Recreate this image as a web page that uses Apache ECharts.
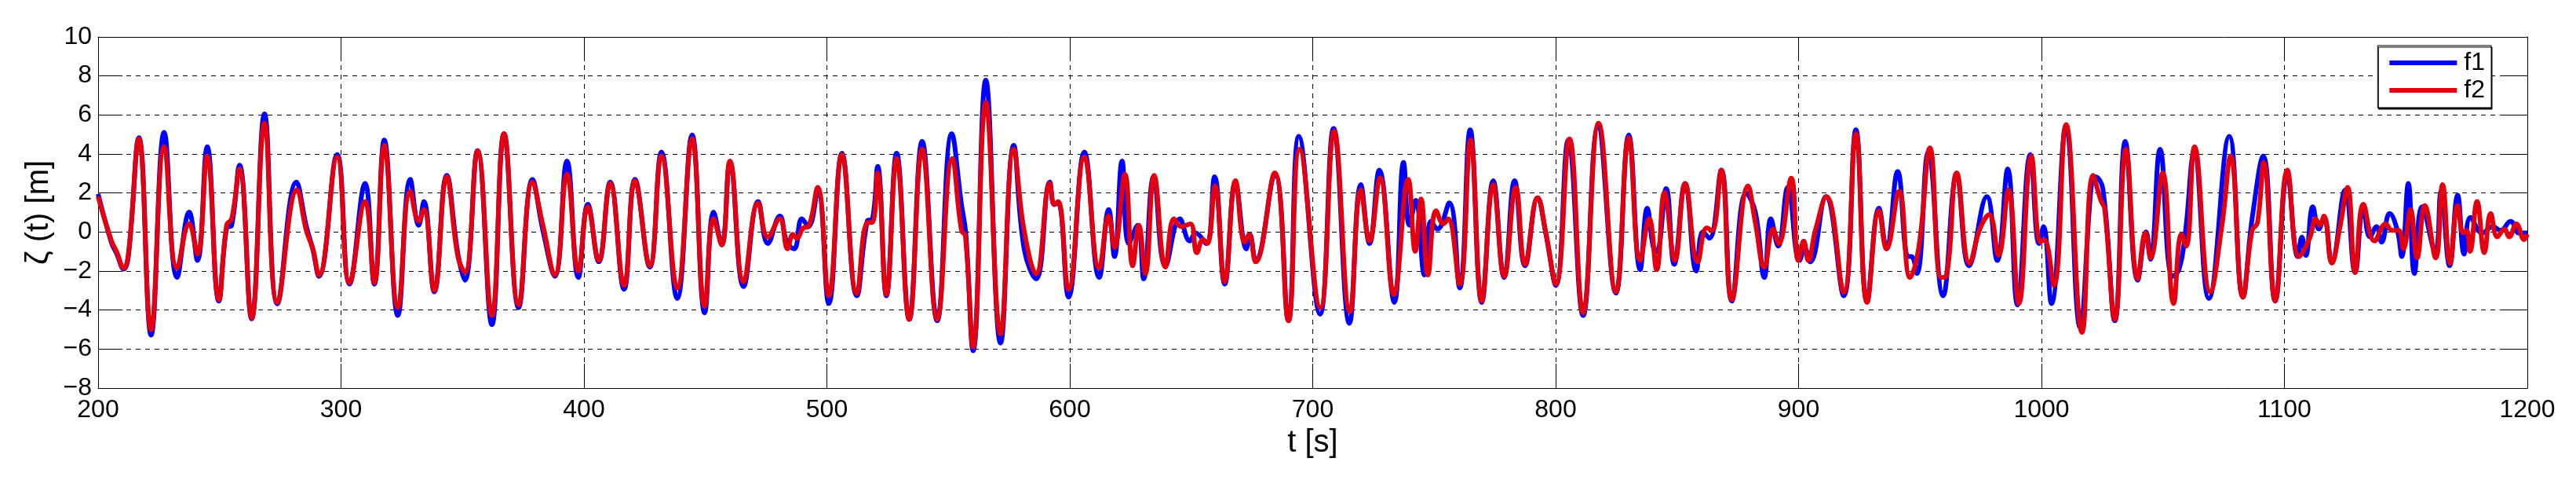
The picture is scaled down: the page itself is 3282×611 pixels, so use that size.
<!DOCTYPE html>
<html>
<head>
<meta charset="utf-8">
<script src="https://cdn.jsdelivr.net/npm/echarts@6/dist/echarts.min.js"></script>
<style>
html,body{margin:0;padding:0;background:#fff;}
#chart{width:3282px;height:611px;}
</style>
</head>
<body>
<div id="chart"></div>
<script>
// x-axis ticks and y-axis ticks
const xTicks = [200, 300, 400, 500, 600, 700, 800, 900, 1000, 1100, 1200];
const yTicks = [-8, -6, -4, -2, 0, 2, 4, 6, 8, 10];
const seriesNames = ['f1', 'f2'];

// f1 (blue) — time [s] and elevation [m], read at extrema
const f1T = [200,205.5,207.6,210.6,212.5,216.8,221.8,227.2,232.5,237.5,240.9,244.9,249.7,252.9,255.0,258.2,263.2,268.5,273.8,281.6,285.7,288.4,290.9,298.4,
303.5,309.9,313.7,317.8,323.4,328.5,332.0,334.1,338.4,343.5,348.1,351.0,356.2,362.1,367.1,373.1,378.8,383.1,388.0,393.0,397.7,401.6,
406.1,410.8,416.5,421.0,427.1,431.9,438.4,444.5,449.7,453.4,456.7,460.1,465.7,471.7,475.7,480.6,483.5,486.5,489.7,492.4,496.2,500.8,506.2,
512.3,516.6,518.8,520.9,524.5,528.7,533.9,539.2,545.4,551.4,555.4,557.2,560.2,565.4,571.5,576.9,581.2,586.1,591.8,593.6,595.2,599.5,606.0,
612.1,616.0,618.4,621.5,624.3,627.9,630.4,634.5,639.4,645.3,649.4,651.8,656.1,659.6,663.8,668.2,672.7,674.1,676.5,684.4,690.0,694.3,703.0,708.6,
715.1,719.8,723.4,727.4,733.6,737.4,739.8,742.4,746.0,748.7,751.3,756.2,760.5,764.8,769.6,774.3,778.8,783.1,787.4,792.6,796.0,800.1,805.2,811.3,817.4,
824.8,830.1,834.8,837.7,840.2,841.6,845.5,848.8,853.3,857.9,860.6,863.3,868.2,872.5,878.4,882.2,885.9,888.6,891.6,895.6,900.4,902.6,904.8,911.2,918.6,
923.6,928.2,933.1,936.2,940.8,945.1,946.5,948.7,953.4,959.5,965.1,970.2,977.5,981.8,986.1,990.1,995.4,999.0,1000.8,1004.1,1010.1,1015.9,1020.5,1022.1,1025.3,
1030.2,1034.5,1039.6,1043.1,1044.9,1048.8,1053.9,1056.6,1059.2,1062.8,1068.9,1077.3,1082.9,1086.7,1091.3,1096.2,1101.2,1105.5,1107.2,1108.8,1111.7,1114.2,1116.3,1119.5,1125.0,
1129.1,1132.5,1135.2,1137.9,1140.0,1143.3,1146.5,1148.3,1151.0,1153.5,1156.7,1162.1,1164.5,1168.0,1171.3,1174.0,1176.6,1181.5,1185.8,1189.0,1193.1,1196.6,1200];
const f1V = [1.95,-0.55,-1.1,-1.9,-1.2,4.84,-5.28,5.11,-2.33,1.02,-1.46,4.37,-3.54,0.2,0.35,3.43,-4.45,6.05,-3.68,2.56,0.3,-0.9,-2.27,3.97,
-2.67,2.49,-2.67,4.71,-4.28,2.7,0.35,1.56,-3.07,2.9,-1.1,-2.47,4.17,-4.75,5.04,-3.88,2.7,0.08,-2.27,3.64,-2.33,1.42,
-1.53,2.56,-2.94,2.7,-1.8,4.1,-3.41,4.98,-4.14,1.02,-0.66,3.57,-2.8,1.56,-0.59,0.82,-0.5,-0.86,0.68,0.28,2.1,-3.67,4.04,
-3.27,0.55,0.68,3.37,-3.27,4.04,-4.48,4.64,-4.55,5.04,1.42,-0.1,-6.09,7.79,-5.69,4.44,-0.86,-2.4,2.56,1.4,1.5,-3.34,4.1,
-2.33,1.15,-1.26,3.64,-0.59,0.35,-2.4,2.83,-1.73,0.68,-0.46,-0.05,-0.59,2.83,-2.67,2.49,-0.86,-0.12,-1.46,2.96,-4.55,4.91,-4.21,5.31,
-4.68,2.43,-0.59,3.17,-3.61,3.57,0.35,1.62,-2.2,0.55,0.15,1.49,-2.87,5.24,-3.61,2.63,-2.33,2.63,-1.73,1.76,-0.12,-2.74,4.71,-4.28,5.38,
-3.14,4.98,-1.93,1.22,-0.79,-1.0,2.23,-1.66,2.49,-2.0,0.01,-0.32,3.17,-3.54,2.0,1.02,-2.33,0.68,-0.72,2.29,-1.46,-0.86,-1.53,1.82,-3.27,
5.24,-3.54,1.22,-0.86,3.1,-1.26,-1.26,-2.13,4.1,-3.27,2.9,-1.73,1.82,-1.46,3.23,-3.74,3.97,-0.59,0.28,-3.67,5.44,-4.88,2.36,2.83,2.2,
-4.55,4.64,-2.47,0.0,-1.4,4.24,-2.27,-1.93,-0.05,4.04,-3.41,4.91,-3.34,0.68,3.9,-3.54,2.97,-1.26,-0.26,-1.2,1.29,0.15,0.75,-1.53,2.15,
-2.07,1.29,-0.25,0.28,-0.52,0.95,0.08,-1.26,2.49,-2.13,1.29,-1.0,2.09,-1.73,1.89,-1.13,0.75,-0.05,0.28,0.08,0.55,-0.05,-0.05];

// f2 (red) — time [s] and elevation [m], read at extrema
const f2T = [200,205.5,207.6,210.6,212.5,216.8,221.8,227.2,232.5,237.5,240.9,244.9,249.7,252.9,255.0,258.2,263.2,268.5,273.8,281.9,285.7,288.4,290.9,298.4,
303.5,309.9,313.7,317.8,323.4,328.5,332.0,334.1,338.4,343.5,348.1,351.0,356.2,362.1,367.1,373.1,378.8,383.1,388.0,393.0,397.7,401.6,
406.1,410.8,416.5,421.0,427.1,431.9,438.4,444.5,449.7,453.4,456.7,460.1,465.7,471.7,475.7,480.6,483.8,486.0,487.6,490.3,492.4,496.2,500.8,506.2,
512.3,516.6,518.8,520.9,524.5,528.7,533.9,539.2,545.4,551.6,555.4,557.0,560.2,565.4,571.5,576.9,581.2,586.1,591.8,593.6,595.2,599.5,606.0,
612.1,616.0,618.4,622.7,625.9,628.4,631.1,634.7,639.4,642.9,645.8,649.6,652.3,654.8,656.6,659.8,663.8,668.2,672.0,673.8,676.5,684.4,690.0,694.6,703.1,708.8,
715.3,719.8,723.4,727.7,733.4,739.3,742.2,744.6,747.4,750.8,753.8,755.7,760.5,765.0,769.6,774.3,778.8,783.6,787.4,792.6,796.0,800.1,805.7,811.3,817.7,
824.8,830.1,834.8,838.5,841.6,844.8,849.1,853.3,858.5,862.2,864.4,868.2,872.5,879.2,882.2,885.9,889.5,891.8,897.0,899.9,902.1,904.0,906.9,911.5,918.6,
923.6,928.2,933.1,936.2,941.4,945.9,949.5,954.1,958.6,960.8,965.1,970.4,974.8,978.5,982.3,986.4,990.7,995.8,999.5,1001.1,1005.1,1010.1,1016.7,1021.2,1024.5,1026.0,
1030.2,1034.8,1039.6,1042.8,1044.9,1049.9,1054.4,1057.6,1059.6,1063.0,1069.5,1074.3,1077.9,1082.9,1086.7,1088.9,1091.5,1096.2,1101.2,1106.1,1110.4,1112.9,1114.5,1116.3,1119.5,1122.8,1126.0,
1129.1,1132.5,1137.1,1141.7,1144.3,1147.0,1149.0,1151.9,1154.6,1157.8,1162.3,1165.1,1168.2,1171.3,1173.6,1175.0,1176.4,1179.3,1182.3,1184.9,1187.7,1190.6,1192.5,1195.5,1198.7,1200];
const f2V = [1.82,-0.46,-1.0,-1.86,-1.1,4.78,-5.02,4.37,-1.86,0.42,-1.13,3.9,-3.47,0.35,0.68,3.23,-4.41,5.58,-3.61,2.16,0.08,-0.86,-2.2,3.84,
-2.6,1.56,-2.6,4.44,-3.88,2.09,0.55,1.15,-3.0,2.83,-1.26,-2.07,4.17,-4.28,5.04,-3.74,2.56,0.35,-2.2,2.96,-2.0,1.29,
-1.46,2.49,-2.74,2.63,-1.73,3.9,-2.87,4.78,-3.81,0.68,-0.66,3.64,-2.54,1.49,-0.25,0.68,-0.86,-0.12,-0.32,0.21,0.28,2.29,-3.27,3.97,
-3.14,0.48,0.5,3.03,-3.2,3.77,-4.48,4.24,-4.48,3.77,0.08,-0.19,-5.89,6.65,-5.22,4.24,0.08,-2.13,2.49,1.42,1.56,-2.94,3.84,
-1.86,0.82,-0.79,2.96,-1.73,0.35,-2.13,2.9,-1.8,0.68,0.28,0.42,-1.06,-0.39,-0.59,2.36,-2.54,2.63,-0.52,-0.12,-1.53,3.03,-4.55,4.24,-3.88,5.18,
-4.08,2.16,-0.46,2.76,-3.2,2.7,-0.99,1.69,-2.2,1.09,0.42,0.68,-2.67,4.71,-3.54,2.43,-2.27,2.29,-1.66,1.76,-0.05,-2.67,4.78,-4.14,5.58,
-3.07,4.84,-1.46,0.68,-1.93,2.03,-1.46,2.49,-1.53,0.21,0.08,3.17,-3.47,2.36,0.48,-1.8,0.15,-0.59,2.76,-1.46,-0.46,-1.46,0.08,1.82,-3.1,
5.04,-3.61,1.09,-0.86,2.09,-2.33,-0.79,4.31,-2.33,-2.26,3.03,-1.6,0.21,0.89,-1.19,2.16,-3.67,3.9,-0.52,-0.39,-2.74,5.51,-5.15,2.9,1.6,1.2,
-4.48,4.24,-2.4,-0.05,-1.33,3.03,-3.67,-0.12,-0.72,4.37,-3.07,0.35,3.9,-3.34,0.08,0.48,3.57,-3.54,3.17,-1.26,-0.32,0.68,0.35,0.82,-1.6,0.21,2.29,
-2.07,1.42,-0.46,0.42,0.08,0.08,-0.86,1.15,-1.33,1.35,-1.33,2.43,-1.6,1.35,-0.05,0.08,-0.99,1.56,-1.06,0.95,-0.25,0.15,-0.25,0.42,-0.39,-0.12];

const FONT = '"Liberation Sans", Arial, Helvetica, sans-serif';
const chart = echarts.init(document.getElementById('chart'), null, {renderer: 'canvas'});

const pair = (T, V) => T.map((t, i) => [t, V[i]]);
const minusFmt = v => (v < 0 ? '\u2212' + Math.abs(v) : String(v));
const plainFmt = v => String(v);

const baseAxisLine = {show: true, onZero: false, lineStyle: {color: '#000', width: 1}};
const baseTick = {show: true, inside: true, length: 31, lineStyle: {color: '#000', width: 1}};
const gridDash = {show: true, lineStyle: {color: '#000', width: 1, type: [6, 6]}};

chart.setOption({
  animation: false,
  backgroundColor: '#fff',
  textStyle: {fontFamily: FONT},
  grid: {left: 125, right: 62, top: 47, bottom: 117, containLabel: false},
  legend: {
    data: seriesNames,
    orient: 'vertical',
    right: 108,
    top: 58,
    icon: 'rect',
    itemWidth: 86,
    itemHeight: 6,
    itemGap: 3,
    padding: [6, 8, 6, 15],
    backgroundColor: '#fff',
    borderColor: '#000',
    borderWidth: 1,
    shadowColor: 'rgba(0,0,0,1)',
    shadowOffsetX: 1,
    shadowOffsetY: 2,
    shadowBlur: 0,
    textStyle: {fontSize: 32, lineHeight: 32, color: '#000', fontFamily: FONT, padding: [0, 0, 0, 4]}
  },
  xAxis: [{
    type: 'value',
    min: xTicks[0], max: xTicks[xTicks.length - 1], interval: xTicks[1] - xTicks[0],
    axisLine: baseAxisLine,
    axisTick: baseTick,
    axisLabel: {color: '#000', fontSize: 32, fontFamily: FONT, margin: 12, formatter: plainFmt, showMinLabel: true, showMaxLabel: true},
    splitLine: gridDash,
    name: 't [s]', nameLocation: 'middle', nameGap: 50,
    nameTextStyle: {fontSize: 40, color: '#000', fontFamily: FONT}
  }, {
    type: 'value', position: 'top',
    min: xTicks[0], max: xTicks[xTicks.length - 1], interval: xTicks[1] - xTicks[0],
    axisLine: baseAxisLine, axisTick: baseTick,
    axisLabel: {show: false}, splitLine: {show: false}
  }],
  yAxis: [{
    type: 'value',
    min: yTicks[0], max: yTicks[yTicks.length - 1], interval: yTicks[1] - yTicks[0],
    axisLine: baseAxisLine,
    axisTick: baseTick,
    axisLabel: {color: '#000', fontSize: 32, fontFamily: FONT, margin: 8, formatter: minusFmt, showMinLabel: true, showMaxLabel: true},
    splitLine: gridDash,
    name: '\u03B6 (t) [m]', nameLocation: 'middle', nameGap: 54,
    nameTextStyle: {fontSize: 40, color: '#000', fontFamily: FONT}
  }, {
    type: 'value', position: 'right',
    min: yTicks[0], max: yTicks[yTicks.length - 1], interval: yTicks[1] - yTicks[0],
    axisLine: baseAxisLine, axisTick: baseTick,
    axisLabel: {show: false}, splitLine: {show: false}
  }],
  series: [{
    name: seriesNames[0], type: 'line', xAxisIndex: 0, yAxisIndex: 0,
    data: pair(f1T, f1V), showSymbol: false, smooth: 0.45, clip: true,
    color: '#0000ff', lineStyle: {color: '#0000ff', width: 6}, z: 2
  }, {
    name: seriesNames[1], type: 'line', xAxisIndex: 0, yAxisIndex: 0,
    data: pair(f2T, f2V), showSymbol: false, smooth: 0.45, clip: true,
    color: '#e3000f', lineStyle: {color: '#e3000f', width: 6}, z: 3
  }]
});
</script>
</body>
</html>
